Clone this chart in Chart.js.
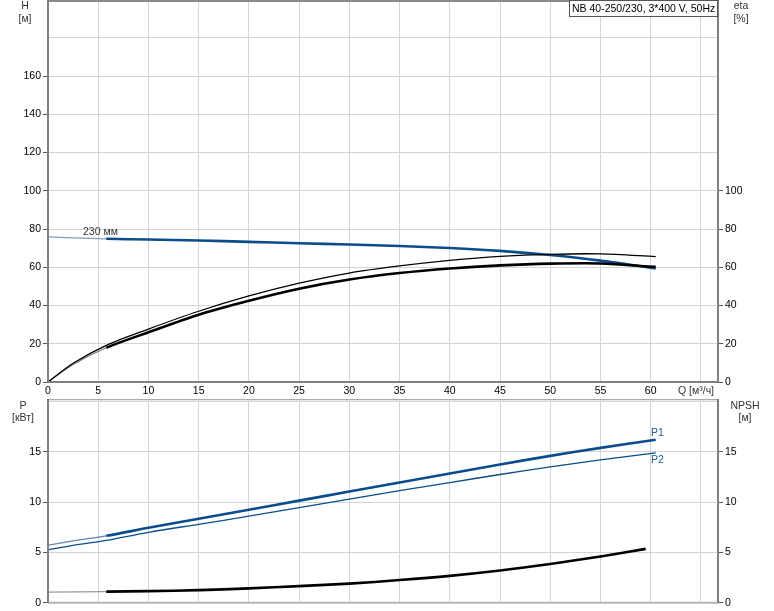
<!DOCTYPE html>
<html>
<head>
<meta charset="utf-8">
<script src="https://cdn.jsdelivr.net/npm/chart.js@4/dist/chart.umd.min.js"></script>
<style>
  html, body { margin: 0; padding: 0; background: #fff; width: 774px; height: 611px; overflow: hidden; position: relative; }
  #topChart { position: absolute; left: 0; top: -3px; }
  #bottomChart { position: absolute; left: 0; top: 399px; }
</style>
</head>
<body>
<canvas id="topChart" width="774" height="402"></canvas>
<canvas id="bottomChart" width="774" height="212"></canvas>
<script>
// flow points, m3/h
const q = [0, 2.5, 5.8, 10, 15, 20, 25, 30, 35, 40, 45, 50, 55, 60.5];
const head = [75.9, 75.4, 74.9, 74.5, 74.0, 73.3, 72.6, 71.9, 71.1, 70.1, 68.6, 66.4, 63.5, 59.4];
const etaPump = [0, 9.8, 19.2, 27.7, 37.0, 45.0, 51.7, 57.0, 60.7, 63.6, 65.7, 66.8, 67.0, 65.6];
const etaTotal = [0, 9.2, 17.9, 26.0, 35.2, 42.5, 48.8, 53.6, 57.0, 59.4, 61.0, 61.9, 62.0, 60.2];
const p1 = [5.7, 6.15, 6.65, 7.45, 8.35, 9.25, 10.15, 11.05, 11.95, 12.85, 13.75, 14.6, 15.4, 16.2];
const p2 = [5.25, 5.7, 6.2, 7.0, 7.8, 8.6, 9.45, 10.3, 11.15, 11.95, 12.75, 13.5, 14.2, 14.9];
const npshQ = [0, 5.8, 10, 15, 20, 25, 30, 35, 40, 45, 50, 55, 59.5];
const npsh = [1.05, 1.1, 1.15, 1.25, 1.42, 1.65, 1.9, 2.25, 2.67, 3.2, 3.85, 4.6, 5.35];

const qTicks = [0, 5, 10, 15, 20, 25, 30, 35, 40, 45, 50, 55, 60, 65];
const hTicks = [0, 20, 40, 60, 80, 100, 120, 140, 160, 180, 200];
const etaTicks = [0, 20, 40, 60, 80, 100, 120, 140, 160, 180, 200];
const pTicks = [0, 5, 10, 15, 20];
const npshTicks = [0, 5, 10, 15, 20];

const QMAX = 66.7;
const DUTY_START = 5.8;
const FONT = "'Liberation Sans', Arial, sans-serif";
const SHIFT = 3; // top canvas sits 3px above the page edge

Chart.defaults.font.family = FONT;
Chart.defaults.font.size = 10.5;
Chart.defaults.color = '#000';

const pts = (xs, ys) => xs.map((x, i) => ({ x, y: ys[i] }));
const setTicks = (list) => (scale) => { scale.ticks = list.map((v) => ({ value: v })); };

const GRID = '#d4d4d4';
const BLUE = '#0b4d8c';

// thin before the duty range, thick after
const duty = (thin, thick, thinColor, thickColor) => ({
  borderWidth: (c) => (c.p1.parsed.x <= DUTY_START ? thin : thick),
  borderColor: (c) => (c.p1.parsed.x <= DUTY_START ? thinColor : thickColor),
});

function line(label, data, color, width, segment) {
  return {
    label, data, borderColor: color, borderWidth: width,
    pointRadius: 0, tension: 0.3, fill: false, segment,
  };
}

function text(ctx, str, x, y, align, color) {
  ctx.fillStyle = color || '#000';
  ctx.textAlign = align || 'left';
  ctx.textBaseline = 'middle';
  ctx.fillText(str, x, y);
}

function hLine(ctx, x1, x2, y, color, w) {
  ctx.strokeStyle = color; ctx.lineWidth = w;
  ctx.beginPath(); ctx.moveTo(x1, y); ctx.lineTo(x2, y); ctx.stroke();
}
function vLine(ctx, x, y1, y2, color, w) {
  ctx.strokeStyle = color; ctx.lineWidth = w;
  ctx.beginPath(); ctx.moveTo(x, y1); ctx.lineTo(x, y2); ctx.stroke();
}

const topDecor = {
  id: 'topDecor',
  afterDraw(chart) {
    const { ctx, chartArea: a } = chart;
    const s = SHIFT;
    ctx.save();
    hLine(ctx, a.left, a.right, s + 1, '#8a8a8a', 2);
    hLine(ctx, a.left, a.right, a.bottom, '#808080', 2);
    vLine(ctx, a.left, a.top, a.bottom, '#808080', 2);
    vLine(ctx, a.right, a.top, a.bottom, '#808080', 2);
    ctx.font = '10.5px ' + FONT;
    text(ctx, 'H', 25, s + 6, 'center', '#333');
    text(ctx, '[м]', 25, s + 19, 'center', '#333');
    text(ctx, 'eta', 741, s + 6, 'center', '#333');
    text(ctx, '[%]', 741, s + 19, 'center', '#333');
    ctx.fillStyle = '#fff';
    ctx.fillRect(569.5, s + 0.5, 148, 16);
    ctx.strokeStyle = '#555'; ctx.lineWidth = 1;
    ctx.strokeRect(569.5, s + 0.5, 148, 16);
    text(ctx, 'NB 40-250/230, 3*400 V, 50Hz', 572, s + 9, 'left', '#000');
    text(ctx, '230 мм', 83, s + 232, 'left', '#333');
    text(ctx, 'Q [м³/ч]', 678, s + 391, 'left', '#333');
    ctx.restore();
  },
};

const bottomDecor = {
  id: 'bottomDecor',
  afterDraw(chart) {
    const { ctx, chartArea: a } = chart;
    ctx.save();
    hLine(ctx, a.left, a.right, 0.5, '#aaaaaa', 1.5);
    hLine(ctx, a.left, a.right, a.bottom, '#b4b4b4', 2);
    vLine(ctx, a.left, 0, a.bottom, '#808080', 2);
    vLine(ctx, a.right, 0, a.bottom, '#808080', 2);
    ctx.font = '10.5px ' + FONT;
    text(ctx, 'P', 23, 7, 'center', '#333');
    text(ctx, '[кВт]', 23, 19, 'center', '#333');
    text(ctx, 'NPSH', 745, 7, 'center', '#333');
    text(ctx, '[м]', 745, 19, 'center', '#333');
    text(ctx, 'P1', 651, 34, 'left', '#1d5a96');
    text(ctx, 'P2', 651, 61, 'left', '#1d5a96');
    ctx.restore();
  },
};

const xScale = (showLabels) => ({
  type: 'linear', min: 0, max: QMAX,
  afterBuildTicks: setTicks(qTicks),
  grid: { color: GRID, drawTicks: false },
  border: { display: false },
  ticks: {
    display: showLabels, autoSkip: false, maxRotation: 0, padding: 3,
    callback: (v) => (v === 65 ? '' : v),
  },
  afterFit: (s) => { s.height = showLabels ? 17 : 8; },
});

// hidden labels get a 1px font so they add no padding at the top
const valueAxis = (position, max, list, lastShown, showGrid) => ({
  position, min: 0, max,
  afterBuildTicks: setTicks(list),
  grid: {
    drawOnChartArea: showGrid,
    color: GRID, tickLength: 5,
    tickColor: (c) => (c.tick && c.tick.value <= lastShown ? '#555' : 'rgba(0,0,0,0)'),
  },
  border: { display: false },
  ticks: {
    padding: 2,
    callback: (v) => (v <= lastShown ? v : ''),
    font: (c) => (c.tick && c.tick.value > lastShown ? { size: 1 } : { size: 10.5 }),
  },
  afterFit: (s) => { s.width = position === 'left' ? 48 : 56; },
});

new Chart(document.getElementById('topChart'), {
  type: 'line',
  data: {
    datasets: [
      line('eta pump', pts(q, etaPump), '#000', 1.3),
      line('eta total', pts(q, etaTotal), '#000', 2.5, duty(1.2, 2.6, '#777', '#000')),
      line('H 230 mm', pts(q, head), BLUE, 2.5, duty(1.2, 2.6, '#7f9fc0', BLUE)),
    ],
  },
  options: {
    responsive: false,
    animation: false,
    layout: { padding: 0 },
    plugins: { legend: { display: false }, tooltip: { enabled: false } },
    scales: {
      x: xScale(true),
      y: valueAxis('left', 200, hTicks, 160, true),
      eta: valueAxis('right', 200, etaTicks, 100, false),
    },
  },
  plugins: [topDecor],
});

new Chart(document.getElementById('bottomChart'), {
  type: 'line',
  data: {
    datasets: [
      line('P1', pts(q, p1), BLUE, 2.5, duty(1.2, 2.6, '#5f86b0', BLUE)),
      line('P2', pts(q, p2), BLUE, 1.3),
      line('NPSH', pts(npshQ, npsh), '#000', 2.5, duty(1.2, 2.6, '#999', '#000')),
    ],
  },
  options: {
    responsive: false,
    animation: false,
    layout: { padding: 0 },
    plugins: { legend: { display: false }, tooltip: { enabled: false } },
    scales: {
      x: xScale(false),
      y: valueAxis('left', 20, pTicks, 15, true),
      npsh: valueAxis('right', 20, npshTicks, 15, false),
    },
  },
  plugins: [bottomDecor],
});
</script>
</body>
</html>
